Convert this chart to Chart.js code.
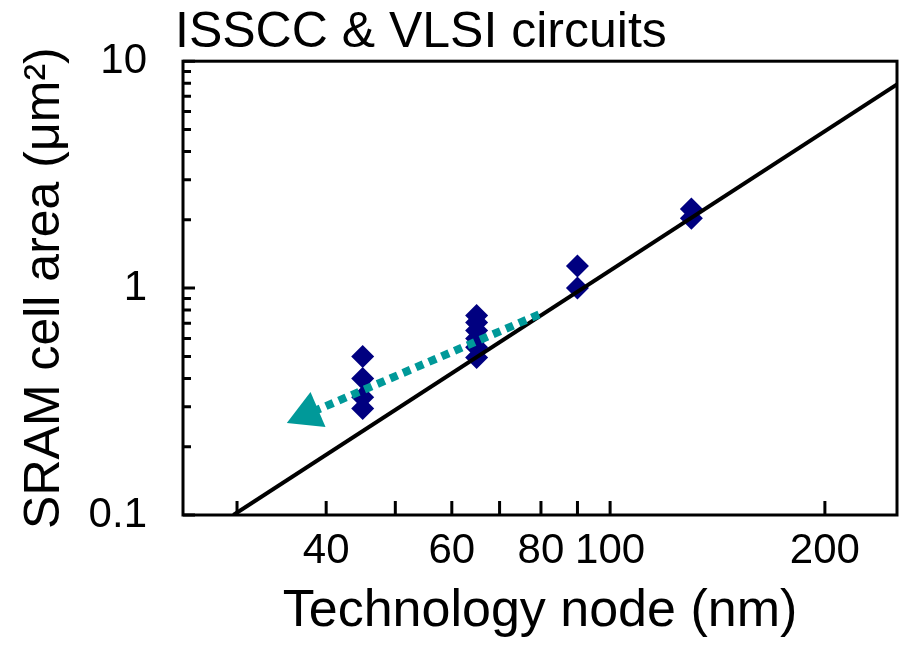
<!DOCTYPE html>
<html>
<head>
<meta charset="utf-8">
<script src="https://cdn.jsdelivr.net/npm/chart.js@4.4.1/dist/chart.umd.min.js"></script>
<style>
    html, body { margin: 0; padding: 0; background: #fff; }
    canvas { display: block; }
</style>
</head>
<body>
<canvas id="areaChart" width="900" height="645"></canvas>
<script>
// =========================
// DATA
// =========================
const chartTitle = "ISSCC & VLSI circuits";

const nodeNm   = [45, 45, 45, 45, 65, 65, 65, 65, 65, 65, 90, 90, 130, 130];
const cellArea = [0.50, 0.40, 0.33, 0.295, 0.757, 0.705, 0.651, 0.60, 0.548, 0.495, 1.25, 1.0, 2.23, 2.03];

const trendNode = [29.65, 252.4];
const trendArea = [0.1, 7.9];

const arrowNode = [79.5, 37.6];
const arrowArea = [0.765, 0.278];

const xTickValues = [30, 40, 50, 60, 70, 80, 90, 100, 200];
const xTickLabels = [40, 60, 80, 100, 200];
const yTickValues = [0.1, 0.2, 0.3, 0.4, 0.5, 0.6, 0.7, 0.8, 0.9, 1, 2, 3, 4, 5, 6, 7, 8, 9, 10];
const yTickLabels = [0.1, 1, 10];

const fontFamily = "'Liberation Sans', Arial, Helvetica, sans-serif";
const navy = '#000080';
const teal = '#009999';

function toPoints(xs, ys) {
    return xs.map(function (x, i) { return { x: x, y: ys[i] }; });
}

// =========================
// PLUGINS
// =========================
// frame around plot + ticks pointing inward + title
const frameAndTicks = {
    id: 'frameAndTicks',
    afterDraw: function (chart) {
        const ctx = chart.ctx;
        const a = chart.chartArea;
        const xs = chart.scales.x;
        const ys = chart.scales.y;
        ctx.save();
        ctx.strokeStyle = '#000';
        ctx.lineWidth = 3;
        ctx.beginPath();
        xTickValues.forEach(function (v) {
            const px = xs.getPixelForValue(v);
            ctx.moveTo(px, a.bottom);
            ctx.lineTo(px, a.bottom - 14);
        });
        yTickValues.forEach(function (v) {
            const py = ys.getPixelForValue(v);
            const len = yTickLabels.includes(v) ? 12 : 8;
            ctx.moveTo(a.left, py);
            ctx.lineTo(a.left + len, py);
        });
        ctx.stroke();
        ctx.strokeRect(a.left, a.top, a.right - a.left, a.bottom - a.top);

        ctx.fillStyle = '#000';
        ctx.font = '50px ' + fontFamily;
        ctx.textAlign = 'left';
        ctx.textBaseline = 'alphabetic';
        ctx.fillText(chartTitle, 175, 47);
        ctx.restore();
    }
};

// arrowhead at the end of the dotted teal line
const arrowHead = {
    id: 'arrowHead',
    afterDatasetsDraw: function (chart) {
        const meta = chart.getDatasetMeta(0);
        const p0 = meta.data[0];
        const p1 = meta.data[meta.data.length - 1];
        const dx = p1.x - p0.x, dy = p1.y - p0.y;
        const len = Math.sqrt(dx * dx + dy * dy);
        const ux = dx / len, uy = dy / len;
        const nx = -uy, ny = ux;
        const ctx = chart.ctx;
        ctx.save();
        ctx.fillStyle = teal;
        ctx.beginPath();
        ctx.moveTo(p1.x + ux * 22, p1.y + uy * 22);
        ctx.lineTo(p1.x - ux * 12 + nx * 19, p1.y - uy * 12 + ny * 19);
        ctx.lineTo(p1.x - ux * 12 - nx * 19, p1.y - uy * 12 - ny * 19);
        ctx.closePath();
        ctx.fill();
        ctx.restore();
    }
};

// =========================
// CHART
// =========================
Chart.defaults.font.family = fontFamily;
Chart.defaults.color = '#000';

new Chart(document.getElementById('areaChart'), {
    type: 'scatter',
    data: {
        datasets: [
            {
                label: 'trend arrow',
                data: toPoints(arrowNode, arrowArea),
                showLine: true,
                borderColor: teal,
                borderWidth: 8,
                borderDash: [8, 6],
                borderCapStyle: 'butt',
                pointRadius: 0
            },
            {
                label: 'fit',
                data: toPoints(trendNode, trendArea),
                showLine: true,
                borderColor: '#000',
                borderWidth: 4,
                pointRadius: 0
            },
            {
                label: 'SRAM cells',
                data: toPoints(nodeNm, cellArea),
                pointStyle: 'rectRot',
                pointRadius: 11.5,
                backgroundColor: navy,
                borderColor: navy,
                borderWidth: 0
            }
        ]
    },
    options: {
        responsive: false,
        animation: false,
        layout: { autoPadding: false, padding: { top: 60, right: 3, left: 0, bottom: 0 } },
        plugins: {
            legend: { display: false },
            tooltip: { enabled: false }
        },
        scales: {
            x: {
                type: 'logarithmic',
                min: 25.2,
                max: 252.4,
                grid: { display: false, drawTicks: false },
                border: { display: false },
                afterBuildTicks: function (scale) {
                    scale.ticks = xTickValues.map(function (v) { return { value: v }; });
                },
                afterFit: function (scale) { scale.height = 130; },
                ticks: {
                    autoSkip: false,
                    maxRotation: 0,
                    padding: 11,
                    font: { size: 42 },
                    callback: function (v) { return xTickLabels.includes(v) ? String(v) : ''; }
                },
                title: {
                    display: true,
                    text: 'Technology node (nm)',
                    font: { size: 52, lineHeight: 1.0 },
                    padding: { top: 0, bottom: 7 }
                }
            },
            y: {
                type: 'logarithmic',
                min: 0.1,
                max: 10,
                grid: { display: false, drawTicks: false },
                border: { display: false },
                afterBuildTicks: function (scale) {
                    scale.ticks = yTickValues.map(function (v) { return { value: v }; });
                },
                afterFit: function (scale) { scale.width = 183; },
                ticks: {
                    autoSkip: false,
                    padding: 36,
                    font: { size: 42 },
                    callback: function (v) { return yTickLabels.includes(v) ? String(v) : ''; }
                },
                title: {
                    display: true,
                    text: 'SRAM cell area (\u03bcm\u00b2)',
                    font: { size: 50, lineHeight: 1.0 },
                    padding: { top: 20, bottom: 0 }
                }
            }
        }
    },
    plugins: [frameAndTicks, arrowHead]
});
</script>
</body>
</html>
